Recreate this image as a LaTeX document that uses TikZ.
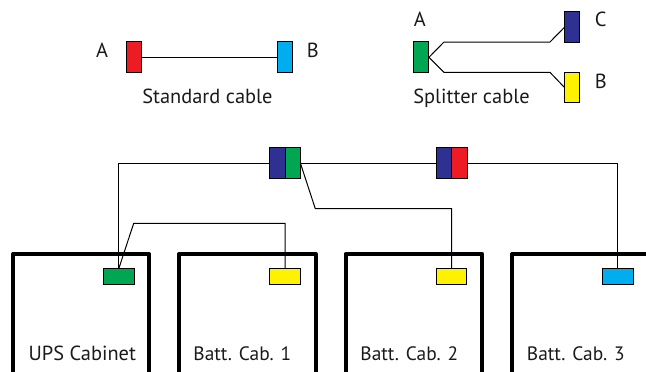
\documentclass[tikz,border=0pt]{standalone}
\usepackage{fontspec}
\setmainfont{PT Sans}
\definecolor{cred}{HTML}{ED1C24}
\definecolor{cblue}{HTML}{00AEEF}
\definecolor{cgreen}{HTML}{00A651}
\definecolor{cyellow}{HTML}{FFF200}
\definecolor{cnavy}{HTML}{2E3192}
\definecolor{ink}{HTML}{1A1A1A}
\tikzset{
  vplug/.style={draw=black,line width=1pt,inner sep=0pt,outer sep=0pt,minimum width=15.3pt,minimum height=30.7pt,fill=#1},
  hplug/.style={draw=black,line width=1pt,inner sep=0pt,outer sep=0pt,minimum width=30.5pt,minimum height=16pt,fill=#1},
  cable/.style={draw=black,line width=1pt},
  cabinet/.style={draw=black,line width=4pt,line join=round},
  lbl/.style={inner sep=0pt,outer sep=0pt,anchor=base,text=ink,font=\fontsize{20.4}{20.4}\selectfont},
  battlbl/.style={lbl,font=\fontsize{19.4}{19.4}\selectfont},
}
\begin{document}
\begin{tikzpicture}[x=1pt,y=-1pt]
\useasboundingbox (0,0) rectangle (646,372);
\clip (0,0) rectangle (646,372);
% top left
\node[vplug=cred] (sa) at (134,57.3) {};
\node[vplug=cblue] (sb) at (284.9,57.3) {};
\draw[cable] (sa.east) -- (sb.west);
\node[lbl] (ta) at (102,57) {A};
\node[lbl] (tb) at (312.8,57) {B};
\node[lbl] (tstd) at (207.4,103) {Standard cable};
% top right
\node[vplug=cgreen] (pa) at (421.3,57.3) {};
\node[vplug=cnavy] (pc) at (572.2,27.2) {};
\node[vplug=cyellow] (pb) at (572.2,87.5) {};
\coordinate (c1) at (444,42);
\coordinate (c2) at (550,42);
\coordinate (b1) at (444,72.4);
\coordinate (b2) at (550,72.4);
\draw[cable] (pa.east) -- (c1) -- (c2) -- (pc.west);
\draw[cable] (pa.east) -- (b1) -- (b2) -- (pb.west);
\node[lbl] (tpa) at (419.8,27) {A};
\node[lbl] (tpc) at (600.8,27) {C};
\node[lbl] (tpb) at (600.8,88) {B};
\node[lbl] (tspl) at (471.5,103) {Splitter cable};
% cabinets
\draw[cabinet] (13,380) -- (13,254) -- (149,254) -- (149,380);
\draw[cabinet] (179.3,380) -- (179.3,254) -- (315.7,254) -- (315.7,380);
\draw[cabinet] (345.5,380) -- (345.5,254) -- (482.3,254) -- (482.3,380);
\draw[cabinet] (512,380) -- (512,254) -- (648.5,254) -- (648.5,380);
\node[lbl] (t1) at (82.3,360) {UPS Cabinet};
\node[battlbl] (t2) at (242.3,360) {Batt. Cab. 1};
\node[battlbl] (t3) at (409.3,360) {Batt. Cab. 2};
\node[battlbl] (t4) at (575.8,360) {Batt. Cab. 3};
% plugs in cabinets
\node[hplug=cgreen] (u) at (118.9,276.3) {};
\node[hplug=cyellow] (y1) at (285,276.3) {};
\node[hplug=cyellow] (y2) at (451.7,276.3) {};
\node[hplug=cblue] (bl) at (617.8,276.3) {};
% joined connectors
\node[vplug=cnavy] (j1a) at (277.5,163.3) {};
\node[vplug=cgreen] (j1b) at (292.8,163.3) {};
\node[vplug=cnavy] (j2a) at (444.1,163.3) {};
\node[vplug=cred] (j2b) at (459.4,163.3) {};
\coordinate (k1) at (118.9,163.3);
\coordinate (k2) at (133.7,223.3);
\coordinate (k3) at (285,223.3);
\coordinate (k4) at (315.3,208.7);
\coordinate (k5) at (451.7,208.7);
\coordinate (k6) at (617.8,163.3);
\draw[cable] (j1a.west) -- (k1) -- (u.north);
\draw[cable] (u.north) -- (k2) -- (k3) -- (y1.north);
\draw[cable] (j1b.east) -- (k4) -- (k5) -- (y2.north);
\draw[cable] (j1b.east) -- (j2a.west);
\draw[cable] (j2b.east) -- (k6) -- (bl.north);
\end{tikzpicture}
\end{document}
